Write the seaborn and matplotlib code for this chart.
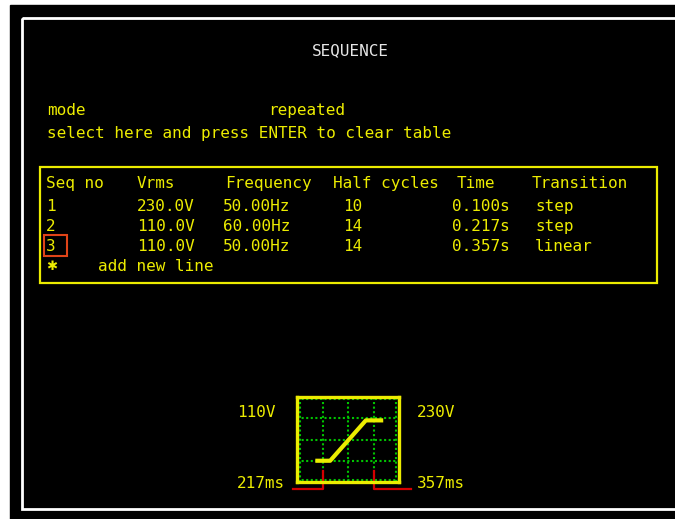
import seaborn as sns
import pandas as pd
from matplotlib import pyplot as plt
from matplotlib.patches import Rectangle

# table values
headers = ["Seq no", "Vrms", "Frequency", "Half cycles", "Time", "Transition"]
seq_no = [1, 2, 3]
vrms = [230.0, 110.0, 110.0]
frequency = [50.00, 60.00, 50.00]
half_cycles = [10, 14, 14]
time_s = [0.100, 0.217, 0.357]
transition = ["step", "step", "linear"]
mode = "repeated"
selected_row = 3

# transition preview (grid units)
trace_x = [0.8, 1.3, 2.7, 3.3]
trace_y = [1.0, 1.0, 2.9, 2.9]
marker_x = [1, 3]

YELLOW = "#ecec00"
GREEN = "#00c400"
RED = "#d40000"
FS = 11.5
BL = 5  # baseline offset from row centre, px
plt.rcParams["font.family"] = ["DejaVu Sans Mono", "DejaVu Sans"]


def put(x, y, s, **kw):
    kw.setdefault("color", YELLOW)
    kw.setdefault("fontsize", FS)
    ax.text(x, y + BL, s, va="baseline", **kw)


fig = plt.figure(figsize=(6.75, 5.19), dpi=100)
ax = fig.add_axes([0, 0, 1, 1])
ax.set_xlim(0, 675)
ax.set_ylim(519, 0)
ax.axis("off")

# screen background and frame
ax.add_patch(Rectangle((10, 5), 680, 520, color="black"))
ax.add_patch(Rectangle((22, 18), 700, 491, fill=False, ec="white", lw=2))

put(350, 50, "SEQUENCE", color="#e6e6e6", ha="center")
put(47, 110, "mode")
put(268, 110, mode)
put(47, 133, "select here and press ENTER to clear table")

# table
ax.add_patch(Rectangle((40, 167), 617, 116, fill=False, ec=YELLOW, lw=1.6))
header_x = [46, 137, 225, 333, 457, 532]
for hx, h in zip(header_x, headers):
    put(hx, 183, h)

df = pd.DataFrame({
    "seq": seq_no, "vrms": vrms, "freq": frequency,
    "half": half_cycles, "time": time_s, "trans": transition,
})
col_x = [46, 137, 223, 343, 452, 535]
for i, r in df.iterrows():
    y = 206 + 20 * i
    vals = [f"{r.seq}", f"{r.vrms:.1f}V", f"{r.freq:.2f}Hz", f"{r.half}", f"{r.time:.3f}s", r.trans]
    for cx, v in zip(col_x, vals):
        put(cx, y, v)
    if r.seq == selected_row:
        ax.add_patch(Rectangle((44, y - 11), 23, 21, fill=False, ec="#e04418", lw=1.5))
ax.text(46, 266, "\u2731", color=YELLOW, fontsize=FS - 2, va="center", family="DejaVu Sans")
put(98, 266, "add new line")

# transition preview graph
gx = fig.add_axes([297 / 675, (519 - 482) / 519, 102 / 675, 85 / 519])
gx.set_facecolor("black")
gx.set_xlim(0, 4)
gx.set_ylim(0, 4)
for v in [0.1, 1, 2, 3, 3.9]:
    gx.axvline(v, color=GREEN, ls=(0, (1, 1.2)), lw=1.5)
    gx.axhline(v, color=GREEN, ls=(0, (1, 1.2)), lw=1.5)
sns.lineplot(x=trace_x, y=trace_y, color=YELLOW, lw=3, ax=gx)
for s in gx.spines.values():
    s.set_color(YELLOW)
    s.set_linewidth(2.4)
gx.set_xticks([])
gx.set_yticks([])
gx.plot([-0.17, marker_x[0], marker_x[0]], [-0.33, -0.33, 0.52], color=RED, lw=1.6, clip_on=False)
gx.plot([marker_x[1], marker_x[1], 4.47], [0.52, -0.33, -0.33], color=RED, lw=1.6, clip_on=False)

put(237, 412, f"{vrms[1]:.0f}V")
put(417, 412, f"{vrms[0]:.0f}V")
put(237, 483, f"{time_s[1] * 1000:.0f}ms")
put(417, 483, f"{time_s[2] * 1000:.0f}ms")

plt.savefig("out.png", dpi=100, facecolor="white")
